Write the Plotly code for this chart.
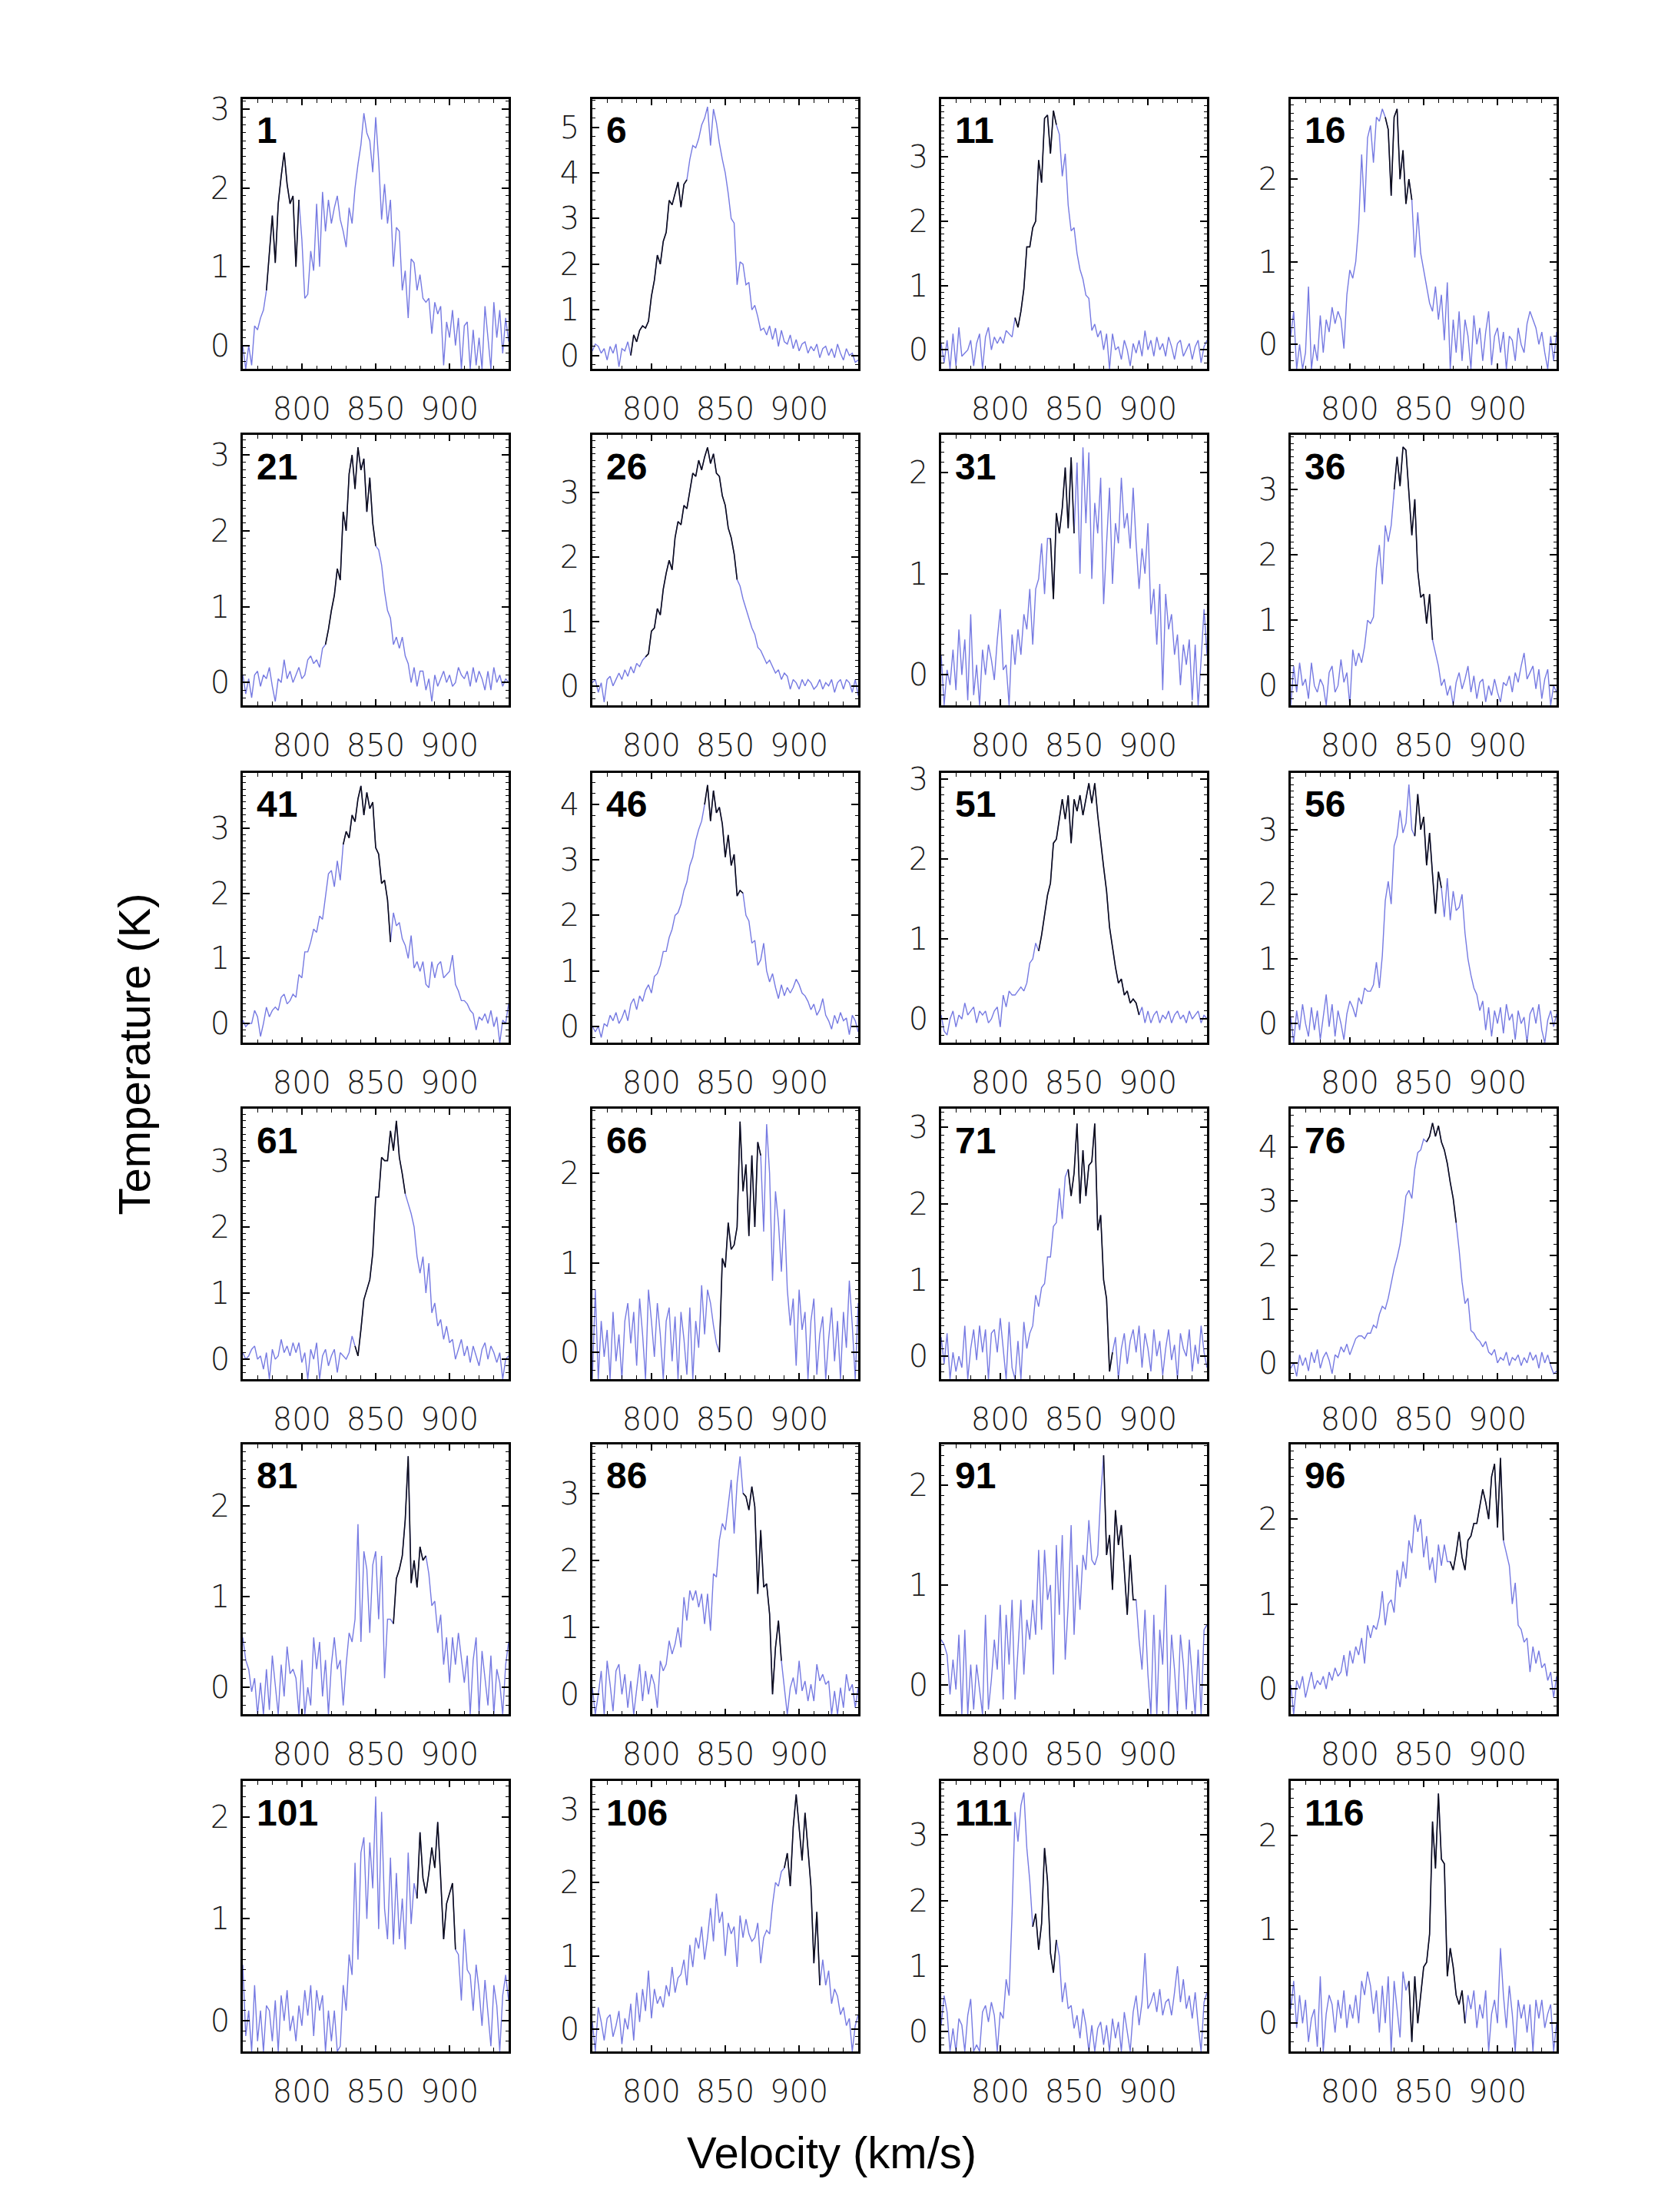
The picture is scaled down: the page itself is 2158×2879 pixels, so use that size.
import plotly.graph_objects as go

# velocity channels (km/s)
VELOCITY = list(range(760, 941, 2))

PANEL_IDS = [1, 6, 11, 16, 21, 26, 31, 36, 41, 46, 51, 56,
             61, 66, 71, 76, 81, 86, 91, 96, 101, 106, 111, 116]

# brightness temperature (K) per panel, one value per channel
T1 = [0.0, -0.3, 0.0, -0.25, 0.25, 0.2, 0.35, 0.45, 0.7, 1.15,
      1.65, 1.05, 1.8, 2.15, 2.45, 2.05, 1.8, 1.9, 1.0, 1.85,
      1.35, 0.6, 0.65, 1.2, 0.95, 1.8, 1.0, 1.95, 1.45, 1.85,
      1.55, 1.75, 1.9, 1.6, 1.45, 1.25, 1.75, 1.55, 2.0, 2.3,
      2.55, 2.95, 2.7, 2.6, 2.2, 2.9, 2.35, 1.6, 2.05, 1.55,
      1.85, 1.0, 1.5, 1.45, 0.7, 0.95, 0.35, 1.1, 1.05, 0.7,
      0.9, 0.6, 0.55, 0.6, 0.15, 0.55, 0.4, 0.5, -0.25, 0.3,
      0.1, 0.45, 0.0, 0.35, -0.3, 0.25, 0.3, -0.3, 0.2, -0.25,
      0.1, -0.3, 0.5, 0.1, -0.3, 0.55, 0.1, 0.45, -0.1, 0.35,
      0.05]
T6 = [0.1, 0.25, 0.2, 0.05, 0.15, -0.1, 0.2, 0.05, 0.25, -0.25,
      0.15, 0.1, 0.3, 0.0, 0.45, 0.3, 0.55, 0.65, 0.6, 0.75,
      1.3, 1.65, 2.2, 2.0, 2.5, 2.7, 3.4, 3.3, 3.55, 3.8,
      3.25, 3.75, 3.85, 4.3, 4.6, 4.55, 4.75, 5.05, 5.2, 5.45,
      4.6, 5.4, 5.1, 4.65, 4.3, 4.0, 3.55, 3.0, 2.9, 1.55,
      2.05, 2.0, 1.55, 1.6, 1.0, 1.1, 0.85, 0.55, 0.6, 0.45,
      0.65, 0.35, 0.6, 0.2, 0.55, 0.3, 0.25, 0.45, 0.15, 0.35,
      0.1, 0.25, 0.3, 0.05, 0.2, 0.1, 0.25, -0.05, 0.15, 0.2,
      0.0, 0.15, -0.05, 0.25, 0.05, -0.1, 0.15, 0.0, 0.05, -0.15,
      -0.1]
T11 = [0.1, -0.2, 0.15, -0.3, 0.25, -0.25, 0.35, -0.1, -0.05, 0.0,
       0.15, -0.25, 0.1, 0.25, -0.3, 0.2, 0.35, 0.0, 0.2, 0.1,
       0.2, 0.1, 0.3, 0.25, 0.2, 0.5, 0.35, 0.6, 0.95, 1.6,
       1.6, 1.9, 2.0, 2.95, 2.6, 3.6, 3.65, 3.05, 3.72, 3.5,
       3.35, 2.7, 3.05, 2.25, 1.85, 1.9, 1.5, 1.25, 1.1, 0.85,
       0.8, 0.3, 0.4, 0.2, 0.3, 0.0, 0.25, -0.3, 0.25, 0.0,
       0.05, -0.15, 0.15, 0.0, -0.25, 0.1, -0.05, 0.15, -0.1, 0.3,
       0.0, 0.15, -0.1, 0.2, 0.0, 0.1, -0.1, 0.2, 0.05, -0.15,
       0.1, 0.15, -0.1, 0.0, 0.1, -0.15, 0.05, 0.15, -0.2, 0.05,
       0.15]
T16 = [0.1, 0.4, -0.3, 0.0, -0.3, -0.1, 0.7, -0.3, 0.0, -0.2,
       0.35, -0.1, 0.3, 0.15, 0.45, 0.25, 0.4, 0.3, -0.05, 0.6,
       0.9, 0.8, 1.0, 1.45, 2.3, 1.6, 2.5, 2.65, 2.2, 2.75,
       2.7, 2.85, 2.75, 2.6, 1.8, 2.75, 2.85, 2.0, 2.35, 1.7,
       2.0, 1.75, 1.05, 1.6, 1.1, 0.9, 0.7, 0.5, 0.4, 0.7,
       0.3, 0.6, 0.05, 0.75, -0.3, 0.3, -0.1, 0.4, -0.2, 0.3,
       0.1, -0.3, 0.35, 0.0, 0.2, -0.2, 0.15, 0.4, -0.25, 0.1,
       0.2, -0.1, 0.15, -0.3, 0.1, 0.05, -0.2, 0.2, 0.0, -0.1,
       0.25, 0.4, 0.3, 0.2, 0.0, 0.15, -0.1, -0.3, 0.1, -0.2,
       0.15]
T21 = [0.1, -0.15, 0.05, -0.2, 0.1, 0.15, -0.05, 0.1, 0.05, 0.2,
       -0.05, -0.25, 0.05, 0.0, 0.3, 0.05, 0.15, 0.0, 0.1, 0.2,
       0.05, 0.1, 0.3, 0.35, 0.25, 0.3, 0.2, 0.45, 0.5, 0.7,
       0.95, 1.15, 1.5, 1.35, 2.25, 2.0, 2.75, 3.0, 2.55, 3.1,
       2.8, 2.95, 2.25, 2.7, 2.1, 1.8, 1.75, 1.55, 1.2, 0.95,
       0.85, 0.5, 0.6, 0.45, 0.6, 0.35, 0.25, 0.0, 0.2, -0.05,
       0.15, 0.15, -0.1, 0.05, -0.25, 0.1, -0.05, 0.05, 0.15, 0.0,
       0.1, -0.05, 0.0, 0.2, 0.1, 0.05, 0.15, -0.05, 0.2, 0.0,
       0.15, 0.05, -0.1, 0.15, -0.1, 0.2, 0.0, 0.1, -0.05, 0.05,
       0.0]
T26 = [0.05, 0.1, -0.1, 0.05, -0.25, 0.1, 0.15, 0.0, 0.1, 0.2,
       0.1, 0.25, 0.15, 0.3, 0.2, 0.35, 0.3, 0.4, 0.45, 0.5,
       0.85, 0.9, 1.2, 1.1, 1.5, 1.75, 1.95, 1.8, 2.3, 2.55,
       2.5, 2.8, 2.75, 3.05, 3.3, 3.25, 3.5, 3.35, 3.55, 3.7,
       3.45, 3.6, 3.3, 3.25, 2.95, 2.8, 2.45, 2.3, 2.05, 1.65,
       1.55, 1.35, 1.2, 1.05, 0.9, 0.8, 0.6, 0.55, 0.45, 0.35,
       0.4, 0.3, 0.2, 0.25, 0.1, 0.2, 0.15, -0.05, 0.1, 0.05,
       -0.05, 0.1, 0.0, 0.1, 0.05, -0.05, 0.0, 0.1, -0.05, 0.05,
       0.0, 0.1, -0.1, 0.05, 0.1, -0.05, 0.1, 0.05, -0.1, 0.1,
       -0.15]
T31 = [0.2, -0.3, 0.05, -0.1, 0.25, -0.15, 0.45, 0.0, 0.35, -0.25,
       0.6, -0.2, 0.1, -0.3, 0.25, 0.0, 0.3, 0.15, -0.05, 0.35,
       0.65, 0.05, 0.1, -0.3, 0.4, 0.1, 0.45, 0.2, 0.6, 0.45,
       0.85, 0.3, 0.85, 0.95, 1.3, 0.8, 1.35, 1.35, 0.75, 1.6,
       1.4, 1.65, 2.05, 1.45, 2.15, 1.4, 2.1, 1.0, 2.25, 1.5,
       2.2, 0.95, 1.7, 1.4, 1.95, 0.7, 1.3, 1.85, 0.9, 1.5,
       1.3, 1.95, 1.45, 1.6, 1.25, 1.85, 1.3, 0.85, 1.25, 1.0,
       1.5, 0.6, 0.85, 0.3, 0.9, -0.15, 0.8, 0.45, 0.6, 0.2,
       0.4, -0.1, 0.3, 0.1, 0.35, -0.25, 0.3, -0.3, 0.15, 0.65,
       0.2]
T36 = [-0.3, 0.3, -0.1, 0.35, 0.0, 0.1, -0.2, 0.35, 0.0, -0.1,
       0.1, 0.0, -0.3, 0.2, 0.3, -0.1, 0.0, 0.4, 0.05, 0.2,
       -0.3, 0.55, 0.3, 0.5, 0.35, 0.6, 1.0, 0.95, 1.05, 1.8,
       2.15, 1.55, 2.45, 2.2, 2.45, 3.0, 3.5, 3.05, 3.65, 3.6,
       2.9, 2.3, 2.85, 1.75, 1.35, 1.4, 0.95, 1.4, 0.7, 0.5,
       0.3, 0.0, 0.1, -0.15, 0.0, -0.3, 0.05, 0.2, -0.05, 0.1,
       0.3, -0.1, 0.15, -0.2, 0.05, 0.1, -0.25, 0.0, -0.15, 0.1,
       -0.1, -0.25, 0.05, 0.0, 0.15, -0.1, 0.2, 0.05, 0.3, 0.5,
       0.1, 0.2, 0.3, -0.05, 0.25, -0.2, 0.1, 0.25, -0.3, 0.0,
       -0.1]
T41 = [0.05, -0.05, 0.0, 0.0, 0.2, 0.1, -0.2, 0.0, 0.25, 0.1,
       0.2, 0.25, 0.2, 0.4, 0.45, 0.3, 0.35, 0.45, 0.4, 0.75,
       0.7, 1.1, 1.1, 1.25, 1.45, 1.4, 1.65, 1.6, 1.95, 2.3,
       2.35, 2.1, 2.5, 2.2, 2.75, 2.95, 2.85, 3.2, 3.1, 3.45,
       3.65, 3.2, 3.55, 3.3, 3.4, 2.7, 2.6, 2.15, 2.2, 1.9,
       1.25, 1.7, 1.5, 1.55, 1.3, 1.2, 1.0, 1.35, 0.85, 0.95,
       0.8, 0.95, 0.6, 0.55, 0.95, 0.7, 0.9, 0.95, 0.7, 0.75,
       0.8, 1.05, 0.6, 0.5, 0.35, 0.35, 0.3, 0.2, 0.15, -0.1,
       0.1, 0.05, 0.15, 0.0, 0.2, -0.05, 0.1, -0.3, 0.05, 0.0,
       0.3]
T46 = [0.0, -0.1, 0.0, -0.2, 0.05, 0.0, 0.2, 0.1, 0.25, 0.05,
       0.15, 0.3, 0.1, 0.4, 0.5, 0.3, 0.55, 0.45, 0.65, 0.75,
       0.6, 0.9, 0.95, 1.1, 1.35, 1.35, 1.6, 1.75, 2.0, 2.05,
       2.2, 2.45, 2.6, 2.9, 3.05, 3.35, 3.55, 3.7, 4.0, 4.35,
       3.7, 4.25, 3.85, 3.95, 3.65, 3.05, 3.45, 2.9, 3.1, 2.35,
       2.45, 2.4, 2.0, 1.9, 1.5, 1.55, 1.1, 1.2, 1.5, 1.0,
       0.8, 0.95, 0.7, 0.5, 0.75, 0.55, 0.7, 0.6, 0.7, 0.85,
       0.75, 0.6, 0.55, 0.45, 0.3, 0.4, 0.2, 0.3, 0.5, 0.2,
       0.1, -0.05, 0.2, 0.05, 0.25, 0.1, 0.15, -0.15, 0.2, 0.1,
       -0.1]
T51 = [0.05, -0.15, -0.2, 0.0, 0.1, -0.1, 0.05, 0.0, 0.2, 0.05,
       0.1, 0.15, -0.05, 0.1, 0.05, 0.1, -0.05, 0.0, 0.1, 0.15,
       -0.1, 0.3, 0.15, 0.35, 0.3, 0.3, 0.35, 0.4, 0.35, 0.45,
       0.7, 0.75, 0.95, 0.85, 1.05, 1.3, 1.55, 1.7, 2.2, 2.25,
       2.5, 2.75, 2.5, 2.8, 2.2, 2.75, 2.6, 2.8, 2.55, 2.75,
       2.95, 2.7, 2.95, 2.55, 2.2, 1.9, 1.6, 1.15, 0.9, 0.65,
       0.45, 0.5, 0.3, 0.35, 0.2, 0.25, 0.2, 0.05, 0.15, -0.05,
       0.1, -0.05, 0.05, 0.1, -0.05, 0.05, 0.0, 0.1, -0.05, 0.05,
       0.1, 0.0, 0.05, -0.05, 0.1, 0.0, 0.05, 0.1, -0.05, 0.05,
       0.0]
T56 = [0.1, -0.3, 0.2, -0.1, 0.3, 0.0, -0.2, 0.25, -0.1, 0.2,
       -0.25, 0.1, 0.45, -0.05, 0.3, -0.2, 0.2, 0.0, -0.25, 0.15,
       0.35, 0.25, 0.1, 0.4, 0.3, 0.55, 0.5, 0.5, 0.6, 0.95,
       0.55, 1.05, 1.9, 2.2, 1.85, 2.75, 2.9, 3.3, 2.95, 3.1,
       3.7, 3.0, 2.9, 3.55, 3.0, 3.2, 2.45, 2.95, 2.3, 1.7,
       2.35, 2.1, 1.65, 2.25, 1.6, 2.05, 1.75, 1.8, 2.0, 1.4,
       1.0, 0.75, 0.55, 0.45, 0.2, 0.35, -0.1, 0.25, -0.2, 0.2,
       0.0, 0.25, -0.15, 0.3, 0.05, 0.15, -0.25, 0.2, 0.0, 0.1,
       -0.3, 0.15, 0.25, 0.0, 0.3, -0.1, -0.3, 0.05, 0.2, -0.05,
       0.15]
T61 = [0.1, 0.0, 0.05, 0.15, 0.2, 0.0, 0.05, -0.15, 0.1, -0.3,
       0.15, 0.0, 0.05, 0.3, 0.1, 0.2, 0.05, 0.25, 0.1, 0.25,
       -0.05, 0.1, -0.3, 0.15, 0.0, 0.25, -0.3, 0.05, 0.15, -0.1,
       0.05, 0.15, -0.2, 0.1, 0.05, 0.0, 0.1, 0.35, 0.2, 0.05,
       0.45, 0.9, 1.05, 1.2, 1.6, 2.45, 2.45, 3.05, 3.0, 3.0,
       3.45, 3.15, 3.6, 3.05, 2.8, 2.5, 2.35, 2.2, 2.0, 1.55,
       1.3, 1.55, 1.0, 1.45, 0.7, 0.85, 0.5, 0.6, 0.3, 0.5,
       0.25, 0.3, 0.0, 0.15, 0.3, 0.05, 0.2, -0.05, 0.2, 0.05,
       -0.1, 0.15, 0.25, 0.0, 0.2, 0.1, -0.05, 0.1, -0.3, 0.0,
       0.05]
T66 = [-0.3, 0.7, -0.3, 0.35, -0.05, 0.25, -0.3, 0.45, -0.1, 0.2,
       -0.3, 0.35, 0.55, 0.1, 0.45, -0.15, 0.6, 0.2, -0.3, 0.7,
       0.35, -0.05, 0.55, 0.2, -0.3, 0.35, 0.5, -0.1, 0.4, -0.3,
       0.45, 0.15, -0.25, 0.5, -0.3, 0.35, 0.05, 0.75, 0.2, 0.7,
       0.55, 0.3, 0.1, 0.0, 1.05, 0.95, 1.45, 1.15, 1.2, 1.4,
       2.58, 1.8, 2.1, 1.3, 2.2, 1.4, 2.35, 2.2, 1.35, 2.55,
       2.0, 0.8, 1.8, 1.45, 0.9, 1.6, 0.7, 0.3, 0.6, -0.15,
       0.7, 0.25, 0.45, -0.3, 0.35, 0.6, -0.25, 0.2, 0.4, -0.3,
       0.15, 0.5, -0.1, 0.35, -0.3, 0.45, 0.05, 0.8, 0.3, -0.3,
       0.55]
T71 = [0.25, -0.1, 0.3, -0.3, 0.05, -0.2, 0.0, -0.15, 0.4, -0.3,
       0.1, 0.35, -0.05, 0.4, 0.05, 0.35, -0.3, 0.3, 0.35, 0.05,
       0.5, 0.1, -0.3, 0.45, -0.15, -0.3, 0.2, -0.3, 0.45, 0.1,
       0.3, 0.4, 0.8, 0.65, 0.9, 0.95, 1.3, 1.3, 1.7, 1.75,
       2.2, 1.8, 2.35, 2.45, 2.1, 2.4, 3.05, 2.0, 2.7, 2.1,
       2.5, 2.55, 3.05, 1.65, 1.85, 1.0, 0.75, -0.2, 0.05, 0.25,
       -0.3, 0.1, 0.3, -0.1, 0.2, 0.35, 0.05, 0.4, -0.15, 0.3,
       0.1, -0.2, 0.35, 0.0, 0.2, -0.25, 0.1, 0.35, -0.05, 0.15,
       -0.3, 0.3, 0.1, 0.0, 0.35, -0.2, 0.15, -0.1, 0.4, 0.05,
       -0.15]
T76 = [-0.1, 0.0, -0.25, 0.15, -0.05, 0.1, -0.15, 0.2, 0.0, 0.25,
       -0.1, 0.1, 0.2, 0.05, -0.2, 0.15, 0.1, 0.3, 0.2, 0.35,
       0.15, 0.3, 0.45, 0.5, 0.5, 0.45, 0.55, 0.55, 0.7, 0.65,
       0.9, 1.05, 1.0, 1.2, 1.5, 1.75, 1.95, 2.2, 2.6, 3.1,
       3.2, 3.05, 3.6, 3.9, 3.95, 4.15, 4.1, 4.2, 4.45, 4.2,
       4.4, 4.1, 3.95, 3.7, 3.35, 3.05, 2.6, 2.1, 1.5, 1.1,
       1.2, 0.6, 0.55, 0.45, 0.4, 0.3, 0.4, 0.2, 0.15, 0.25,
       0.0, 0.1, 0.05, 0.2, -0.05, 0.1, 0.05, 0.15, -0.05, 0.1,
       0.0, 0.2, 0.05, 0.15, -0.1, 0.2, 0.0, 0.15, -0.05, -0.2,
       -0.15]
T81 = [0.55, 0.3, 0.2, -0.05, 0.1, -0.3, 0.05, -0.3, 0.2, -0.25,
       0.35, 0.0, -0.3, 0.25, -0.1, 0.45, 0.15, 0.2, 0.1, -0.3,
       0.3, -0.3, 0.0, -0.2, 0.55, 0.2, 0.5, -0.1, 0.3, -0.3,
       0.25, 0.55, 0.2, 0.3, -0.2, 0.25, 0.6, 0.5, 0.75, 1.8,
       0.5, 1.5, 1.3, 0.6, 1.35, 1.5, 0.75, 1.45, 0.1, 0.75,
       0.75, 0.7, 1.2, 1.3, 1.45, 1.85, 2.55, 1.15, 1.4, 1.1,
       1.55, 1.4, 1.45, 1.25, 0.9, 0.95, 0.6, 0.8, 0.25, 0.55,
       0.05, 0.55, 0.25, 0.6, 0.3, 0.05, 0.35, -0.3, 0.3, 0.55,
       -0.3, 0.4, 0.1, -0.2, 0.35, -0.3, 0.2, 0.05, -0.3, 0.25,
       0.5]
T86 = [0.1, -0.3, 0.0, 0.35, -0.3, 0.5, 0.15, -0.25, 0.35, 0.45,
       0.0, 0.3, -0.2, 0.2, -0.3, 0.1, 0.45, -0.1, 0.35, 0.0,
       0.3, 0.15, -0.2, 0.5, 0.35, 0.45, 0.8, 0.6, 0.75, 1.0,
       0.7, 1.45, 1.1, 1.55, 1.4, 1.55, 1.3, 1.5, 1.05, 1.5,
       0.95, 1.8, 1.75, 2.3, 2.55, 2.45, 2.85, 3.2, 2.4, 3.15,
       3.55, 3.0, 2.95, 2.75, 3.1, 2.8, 1.5, 2.45, 1.6, 1.65,
       1.2, 0.0, 0.7, 1.1, 0.5, 0.1, -0.3, 0.1, 0.25, 0.0,
       0.5, 0.05, 0.2, -0.1, 0.15, -0.1, 0.45, 0.2, 0.3, 0.15,
       0.2, -0.3, 0.05, -0.3, 0.1, -0.2, 0.3, 0.05, 0.15, -0.2,
       0.1]
T91 = [0.45, 0.4, 0.3, -0.1, 0.25, -0.05, 0.5, -0.3, 0.55, -0.3,
       0.2, -0.25, 0.2, -0.05, -0.3, 0.7, -0.25, 0.05, 0.45, 0.15,
       0.8, -0.15, 0.7, 0.2, 0.85, -0.15, 0.4, 0.85, 0.1, 0.65,
       0.45, 0.85, 0.5, 1.35, 0.55, 1.35, 0.85, 1.0, 0.1, 1.4,
       0.7, 1.5, 0.25, 0.8, 1.6, 0.5, 1.2, 0.75, 1.3, 1.15,
       1.65, 1.25, 1.2, 1.3, 1.9, 2.3, 1.3, 1.5, 0.95, 1.75,
       1.4, 1.6, 1.15, 0.7, 1.3, 0.85, 0.85, 0.45, 0.15, 0.75,
       0.1, -0.3, 0.7, -0.3, 0.55, 0.2, 1.0, -0.3, 0.5, 0.15,
       -0.3, 0.5, 0.2, -0.25, 0.45, 0.1, -0.3, 0.35, -0.3, 0.55,
       0.6]
T96 = [0.05, -0.3, 0.1, 0.0, 0.15, -0.1, 0.05, 0.2, 0.0, 0.1,
       0.05, 0.15, 0.0, 0.2, 0.1, 0.25, 0.15, 0.2, 0.4, 0.15,
       0.45, 0.3, 0.5, 0.4, 0.6, 0.3, 0.75, 0.6, 0.75, 0.7,
       0.85, 1.15, 0.75, 1.0, 1.05, 0.9, 1.4, 1.2, 1.5, 1.3,
       1.75, 1.6, 2.05, 1.85, 2.0, 1.55, 1.8, 1.4, 1.55, 1.25,
       1.7, 1.45, 1.7, 1.5, 1.5, 1.4, 1.6, 1.85, 1.55, 1.4,
       1.75, 1.8, 1.95, 1.95, 2.15, 2.35, 2.2, 2.0, 2.5, 2.65,
       1.9, 2.72, 1.75, 1.6, 1.45, 1.0, 1.25, 0.75, 0.7, 0.55,
       0.6, 0.2, 0.5, 0.3, 0.45, 0.25, 0.3, 0.1, 0.2, -0.1,
       0.15]
T101 = [0.55, -0.15, 0.1, -0.3, 0.35, -0.2, 0.1, -0.3, 0.15, 0.1,
        -0.2, 0.2, -0.3, 0.25, 0.0, 0.3, -0.1, 0.05, -0.2, 0.15,
        -0.05, 0.3, 0.05, 0.35, -0.15, 0.3, 0.1, 0.25, -0.3, 0.1,
        -0.2, 0.1, -0.3, -0.25, 0.35, 0.1, 0.65, 0.45, 1.55, 0.6,
        1.65, 1.8, 1.0, 1.75, 1.3, 2.2, 0.9, 2.05, 1.1, 0.8,
        1.6, 0.75, 1.45, 0.8, 1.2, 0.7, 1.65, 0.95, 1.35, 1.2,
        1.85, 1.4, 1.25, 1.45, 1.7, 1.5, 1.95, 1.4, 0.8, 1.15,
        1.25, 1.35, 0.7, 0.65, 0.2, 0.9, 0.5, 0.45, 0.1, 0.55,
        0.3, -0.05, 0.4, 0.1, -0.25, 0.35, 0.15, -0.3, 0.25, 0.45,
        0.2]
T106 = [0.1, -0.3, 0.3, 0.1, -0.15, 0.15, 0.2, -0.1, 0.05, 0.25,
        -0.2, 0.15, 0.0, 0.35, -0.15, 0.5, 0.1, 0.55, 0.25, 0.8,
        0.15, 0.55, 0.35, 0.45, 0.3, 0.6, 0.45, 0.85, 0.5, 0.7,
        0.75, 0.95, 0.6, 1.15, 0.85, 1.25, 1.1, 1.4, 0.95, 1.25,
        1.65, 1.2, 1.85, 1.45, 1.6, 1.0, 1.45, 1.3, 1.4, 0.85,
        1.55, 1.25, 1.5, 1.3, 1.2, 1.25, 1.45, 0.9, 1.25, 1.35,
        1.3, 1.7, 2.0, 1.95, 2.15, 2.2, 2.4, 1.95, 2.75, 3.2,
        2.75, 2.3, 2.95, 2.45, 1.95, 0.9, 1.6, 0.6, 0.95, 0.6,
        0.8, 0.35, 0.55, 0.45, 0.2, 0.3, 0.05, 0.15, -0.3, 0.05,
        0.2]
T111 = [0.1, 0.55, 0.3, -0.3, 0.05, -0.3, 0.2, 0.1, -0.3, 0.25,
        0.5, -0.3, -0.2, -0.3, 0.3, 0.4, 0.15, 0.45, 0.25, -0.3,
        0.3, 0.2, 0.8, 0.55, 1.8, 3.35, 2.9, 3.45, 3.65, 2.8,
        2.3, 1.6, 1.8, 1.25, 1.65, 2.8, 2.3, 1.2, 0.9, 1.4,
        1.15, 0.45, 0.75, 0.35, 0.4, 0.05, 0.25, -0.1, 0.35, 0.1,
        -0.3, 0.1, -0.3, 0.05, 0.15, -0.2, 0.1, -0.3, 0.2, -0.1,
        0.15, -0.3, 0.3, 0.0, -0.3, 0.3, 0.55, 0.1, 0.45, 1.2,
        0.35, 0.45, 0.6, 0.3, 0.65, 0.25, 0.45, 0.5, 0.25, 0.6,
        1.0, 0.45, 0.8, 0.35, 0.55, 0.2, 0.6, 0.1, -0.3, 0.45,
        0.6]
T116 = [0.15, 0.45, -0.05, 0.3, 0.0, 0.25, -0.2, 0.05, 0.15, -0.25,
        0.5, -0.3, 0.1, 0.3, 0.2, -0.1, 0.25, 0.05, 0.35, -0.05,
        0.2, 0.05, 0.3, 0.0, 0.45, 0.3, 0.55, 0.4, 0.1, 0.35,
        -0.1, 0.4, 0.0, 0.5, -0.3, 0.45, 0.15, -0.15, 0.55, 0.35,
        0.45, -0.2, 0.5, 0.0, 0.3, 0.6, 0.65, 0.95, 2.15, 1.65,
        2.45, 1.75, 1.7, 0.5, 0.8, 0.6, 0.3, 0.2, 0.35, 0.0,
        0.3, 0.15, 0.35, -0.05, 0.2, 0.05, 0.35, -0.3, 0.1, 0.25,
        0.0, 0.8, 0.3, -0.05, 0.4, 0.1, -0.3, 0.25, 0.05, 0.2,
        -0.1, 0.2, -0.3, 0.25, 0.05, 0.25, -0.05, 0.1, 0.2, -0.3,
        0.0]

SPECTRA = [T1, T6, T11, T16, T21, T26, T31, T36, T41, T46, T51, T56,
           T61, T66, T71, T76, T81, T86, T91, T96, T101, T106, T111, T116]

# velocity window drawn in black in each panel (km/s)
BLACK_FROM = [776, 786, 810, 823, 815, 796, 834, 829, 827, 836, 825, 843,
              835, 846, 846, 852, 861, 862, 870, 868, 877, 889, 822, 840]
BLACK_TO = [798, 824, 838, 843, 851, 859, 850, 856, 860, 862, 895, 862,
            870, 874, 876, 873, 884, 889, 893, 905, 904, 914, 838, 878]

Y_TOP = [3.13, 5.62, 3.90, 2.97, 3.26, 3.89, 2.37, 3.83, 3.85, 4.57, 3.08, 3.88,
         3.78, 2.72, 3.24, 4.71, 2.68, 3.73, 2.41, 2.88, 2.35, 3.38, 3.82, 2.58]
Y_BOTTOM = -0.3

W, H = 2158, 2879
PAGE_PAD = 8          # page body margin shifts the figure right
COL_LEFT = [316, 771, 1225, 1680]
ROW_TOP = [125, 563, 1003, 1441, 1878, 2317]
PW, PH = 346, 352


def ypix(target):
    # vertical placement as it ends up on the page (measured offset/scale)
    return (target - 19) / 0.9942


BLUE = "#767ae2"
DARK = "#0d0d1a"
tick_font = dict(family="DejaVu Sans", size=40, color="#1a1a1a", weight=200)

fig = go.Figure()
annotations = []

for i, spec in enumerate(SPECTRA):
    n = i + 1
    r, c = i // 4, i % 4
    xname = "x" if n == 1 else f"x{n}"
    yname = "y" if n == 1 else f"y{n}"

    fig.add_trace(go.Scatter(x=VELOCITY, y=spec, xaxis=xname, yaxis=yname,
                             mode="lines", line=dict(color=BLUE, width=1.4),
                             showlegend=False, hoverinfo="skip"))
    bx = [v for v in VELOCITY if BLACK_FROM[i] <= v <= BLACK_TO[i]]
    by = [t for v, t in zip(VELOCITY, spec) if BLACK_FROM[i] <= v <= BLACK_TO[i]]
    fig.add_trace(go.Scatter(x=bx, y=by, xaxis=xname, yaxis=yname,
                             mode="lines", line=dict(color=DARK, width=1.6),
                             showlegend=False, hoverinfo="skip"))

    x0 = COL_LEFT[c] - PAGE_PAD
    ytop = ypix(ROW_TOP[r])
    ybot = ypix(ROW_TOP[r] + PH)
    fig.update_layout({
        ("xaxis" if n == 1 else f"xaxis{n}"): dict(
            domain=[x0 / W, (x0 + PW) / W], anchor=yname,
            range=[760, 940], tick0=800, dtick=50,
            ticks="inside", ticklen=8, tickwidth=1.5, tickcolor="black",
            minor=dict(ticks="inside", dtick=10, ticklen=5, tickwidth=1.3,
                       tickcolor="black"),
            showline=True, linecolor="black", linewidth=2.5, mirror="ticks",
            showgrid=False, zeroline=False, tickfont=tick_font,
            ticklabelstandoff=15),
        ("yaxis" if n == 1 else f"yaxis{n}"): dict(
            domain=[1 - ybot / H, 1 - ytop / H], anchor=xname,
            range=[Y_BOTTOM, Y_TOP[i]], tick0=0, dtick=1,
            ticks="inside", ticklen=9, tickwidth=1.5, tickcolor="black",
            minor=dict(ticks="inside", dtick=0.2 if Y_TOP[i] > 4 else 0.1,
                       ticklen=4, tickwidth=1.3, tickcolor="black"),
            showline=True, linecolor="black", linewidth=2.5, mirror="ticks",
            showgrid=False, zeroline=False, tickfont=tick_font,
            ticklabelstandoff=6),
    })

    annotations.append(dict(
        text=str(PANEL_IDS[i]), xref=f"{xname} domain", yref=f"{yname} domain",
        x=0.045, y=0.965, xanchor="left", yanchor="top", showarrow=False,
        font=dict(family="Liberation Sans", size=48, color="black", weight="bold")))

annotations.append(dict(
    text="Temperature (K)", xref="paper", yref="paper",
    x=(174 - PAGE_PAD) / W, y=1 - ypix(1370) / H, textangle=-90,
    showarrow=False, xanchor="center", yanchor="middle",
    font=dict(family="Liberation Sans", size=58, color="black")))
annotations.append(dict(
    text="Velocity (km/s)", xref="paper", yref="paper",
    x=(1082 - PAGE_PAD) / W, y=1 - ypix(2801) / H, showarrow=False,
    xanchor="center", yanchor="middle",
    font=dict(family="Liberation Sans", size=58, color="black")))

fig.update_layout(
    width=W, height=H, margin=dict(l=0, r=0, t=0, b=0),
    paper_bgcolor="white", plot_bgcolor="white",
    annotations=annotations, showlegend=False,
)

fig.write_html("out.html")
